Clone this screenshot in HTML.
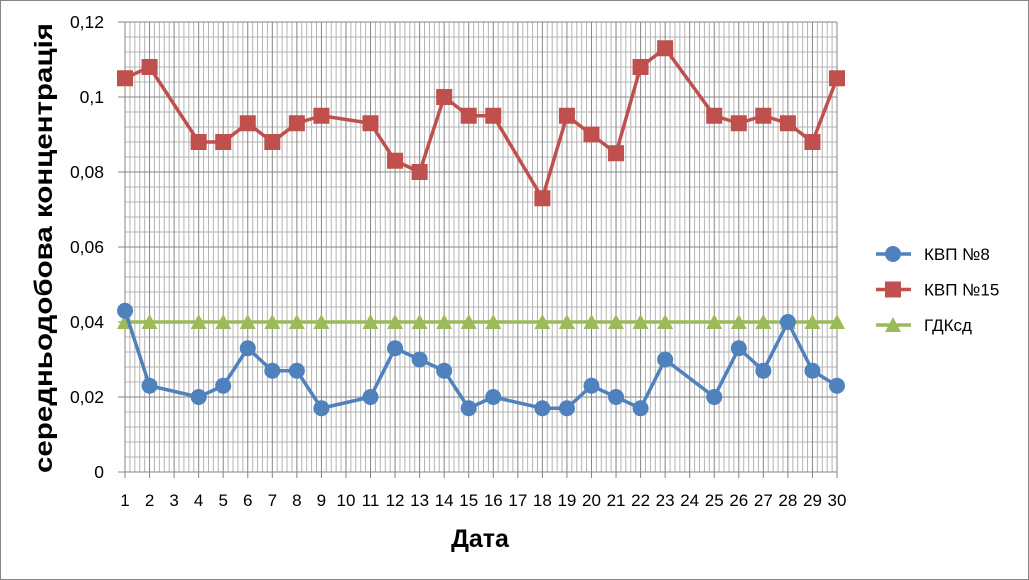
<!DOCTYPE html>
<html><head><meta charset="utf-8"><style>
html,body{margin:0;padding:0;background:#fff;}
svg{display:block;font-family:"Liberation Sans",sans-serif;}
</style></head><body>
<svg id="chart" width="1029" height="580" xmlns="http://www.w3.org/2000/svg">
<rect x="0.5" y="0.5" width="1028" height="579" fill="#fff" stroke="#868686"/>
<g id="grid"></g>
<g id="axes"></g>
<g id="series"></g>
<text transform="translate(52,248) rotate(-90)" text-anchor="middle" font-size="25" font-weight="bold" textLength="450" lengthAdjust="spacingAndGlyphs">середньодобова концентрація</text>
<text x="480" y="547" text-anchor="middle" font-size="25" font-weight="bold">Дата</text>
<g id="legend"></g>
</svg>
<script>
const days = [1,2,4,5,6,7,8,9,11,12,13,14,15,16,18,19,20,21,22,23,25,26,27,28,29,30];
const kvp8 = [0.043,0.023,0.020,0.023,0.033,0.027,0.027,0.017,0.020,0.033,0.030,0.027,0.017,0.020,0.017,0.017,0.023,0.020,0.017,0.030,0.020,0.033,0.027,0.040,0.027,0.023];
const kvp15 = [0.105,0.108,0.088,0.088,0.093,0.088,0.093,0.095,0.093,0.083,0.080,0.100,0.095,0.095,0.073,0.095,0.090,0.085,0.108,0.113,0.095,0.093,0.095,0.093,0.088,0.105];
const gdk = [0.04,0.04,0.04,0.04,0.04,0.04,0.04,0.04,0.04,0.04,0.04,0.04,0.04,0.04,0.04,0.04,0.04,0.04,0.04,0.04,0.04,0.04,0.04,0.04,0.04,0.04];
const xCats = [1,2,3,4,5,6,7,8,9,10,11,12,13,14,15,16,17,18,19,20,21,22,23,24,25,26,27,28,29,30];
const yTicks = [0,0.02,0.04,0.06,0.08,0.1,0.12];
const yLabels = ["0","0,02","0,04","0,06","0,08","0,1","0,12"];

const NS="http://www.w3.org/2000/svg";
const L=125,R=837,T=22,B=472,yMax=0.12;
const x=d=>L+(d-1)*(R-L)/(xCats.length-1);
const y=v=>B-v/yMax*(B-T);
function mk(tag,parent,at){const e=document.createElementNS(NS,tag);for(const k in at)e.setAttribute(k,at[k]);parent.appendChild(e);return e;}
const grid=document.getElementById('grid'),axes=document.getElementById('axes'),ser=document.getElementById('series'),leg=document.getElementById('legend');
const step=(R-L)/(xCats.length-1);
for(let i=0;i<(xCats.length-1)*5;i++){if(i%5===0)continue;const xx=L+i*step/5;
 const l=mk('line',grid,{x1:xx,x2:xx,y1:T,y2:B,stroke:'#b4b4b4','stroke-width':1});
 }
for(let i=0;i<30;i++){if(i%5===0)continue;const yy=B-i*(B-T)/30;
 const l=mk('line',grid,{x1:L,x2:R,y1:yy,y2:yy,stroke:'#b4b4b4','stroke-width':1});
 }
xCats.forEach(c=>{const xx=x(c);
 const l=mk('line',grid,{x1:xx,x2:xx,y1:T,y2:B+6,stroke:'#868686','stroke-width':1});
 
 const t=mk('text',axes,{x:xx,y:506,'text-anchor':'middle','font-size':17});t.textContent=c;
 });
yTicks.forEach((v,i)=>{const yy=y(v);
 const l=mk('line',grid,{x1:L-7,x2:R,y1:yy,y2:yy,stroke:'#868686','stroke-width':1});
 
 const t=mk('text',axes,{x:L-21,y:yy+6,'text-anchor':'end','font-size':17.5});t.textContent=yLabels[i];
 });
function marker(g,type,cx,cy,col){let m;
 if(type==='c')m=mk('circle',g,{cx:cx,cy:cy,r:8,fill:col});
 else if(type==='s')m=mk('rect',g,{x:cx-8,y:cy-8,width:16,height:16,fill:col});
 else m=mk('polygon',g,{points:`${cx},${cy-8} ${cx+8},${cy+7} ${cx-8},${cy+7}`,fill:col});
 }
const S=[{n:'КВП №8',v:kvp8,c:'#4f81bd',m:'c',id:'kvp8'},{n:'КВП №15',v:kvp15,c:'#c0504d',m:'s',id:'kvp15'},{n:'ГДКсд',v:gdk,c:'#9bbb59',m:'t',id:'gdk'}];
S.slice().reverse().forEach(s=>{const g=mk('g',ser,{});
 
 const p=mk('polyline',g,{points:days.map((d,i)=>x(d)+','+y(s.v[i])).join(' '),fill:'none',stroke:s.c,'stroke-width':3.5,'stroke-linejoin':'round'});
 
 days.forEach((d,i)=>marker(g,s.m,x(d),y(s.v[i]),s.c));});
S.forEach((s,i)=>{const yy=254+i*35.5;const g=mk('g',leg,{});
 
 mk('line',g,{x1:876,x2:911,y1:yy,y2:yy,stroke:s.c,'stroke-width':3.5});
 marker(g,s.m,893,yy,s.c);
 const t=mk('text',g,{x:924,y:yy+6,'font-size':17});t.textContent=s.n;});
</script>
</body></html>
